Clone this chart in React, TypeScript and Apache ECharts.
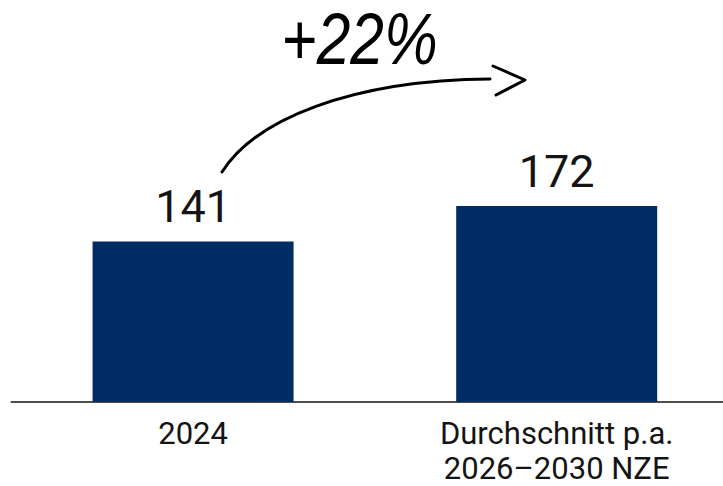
import React, { useEffect, useRef } from "react";
import * as echarts from "echarts";

const categories = ["2024", "Durchschnitt p.a.\n2026–2030 NZE"];
const values = [141, 172];
const changeLabel = "+22%";

const NAVY = "#002B63";
const INK = "#141414";
const FONT = "Roboto, 'Liberation Sans', sans-serif";

export default function App() {
  const ref = useRef<HTMLDivElement>(null);
  useEffect(() => {
    if (!ref.current) return;
    const chart = echarts.init(ref.current, undefined, { renderer: "svg" });
    chart.setOption({
      animation: false,
      backgroundColor: "#ffffff",
      grid: { left: 11.25, right: 1.5, top: 60.3, bottom: 81, containLabel: false },
      xAxis: {
        type: "category",
        data: categories,
        axisLine: { show: true, lineStyle: { color: INK, width: 1.5 } },
        axisTick: { show: false },
        axisLabel: {
          color: INK,
          fontFamily: FONT,
          fontSize: 31,
          lineHeight: 35,
          margin: 14,
          interval: 0,
        },
      },
      yAxis: {
        type: "value",
        min: 0,
        max: 300,
        show: false,
        splitLine: { show: false },
      },
      series: [
        {
          type: "bar",
          data: values,
          barWidth: 201,
          itemStyle: { color: NAVY },
          label: {
            show: true,
            position: "top",
            distance: 12,
            color: INK,
            fontFamily: FONT,
            fontSize: 45,
            lineHeight: 45,
          },
        },
      ],
      graphic: [
        {
          type: "bezierCurve",
          shape: { x1: 222, y1: 172, cpx1: 255, cpy1: 120, cpx2: 350, cpy2: 80, x2: 490, y2: 79 },
          style: { stroke: "#000", lineWidth: 3, fill: "none", lineCap: "round" },
          silent: true,
        },
        {
          type: "polyline",
          shape: { points: [[493, 66], [525, 80], [496, 95]] },
          style: { stroke: "#000", lineWidth: 3, fill: "none", lineCap: "round", lineJoin: "round" },
          silent: true,
        },
        {
          type: "text",
          x: 359.5,
          y: 39,
          scaleX: 0.84,
          style: {
            text: changeLabel,
            x: 0,
            y: 0,
            align: "center",
            verticalAlign: "middle",
            fill: "#000",
            fontFamily: "'Liberation Sans', sans-serif",
            fontSize: 72,
            fontStyle: "italic",
          },
          silent: true,
        },
      ],
    });
    return () => chart.dispose();
  }, []);
  return (
    <div style={{ position: "absolute", left: 0, top: 0, width: 723, height: 486, overflow: "hidden" }}>
      <div ref={ref} style={{ width: 740, height: 486 }} />
    </div>
  );
}
